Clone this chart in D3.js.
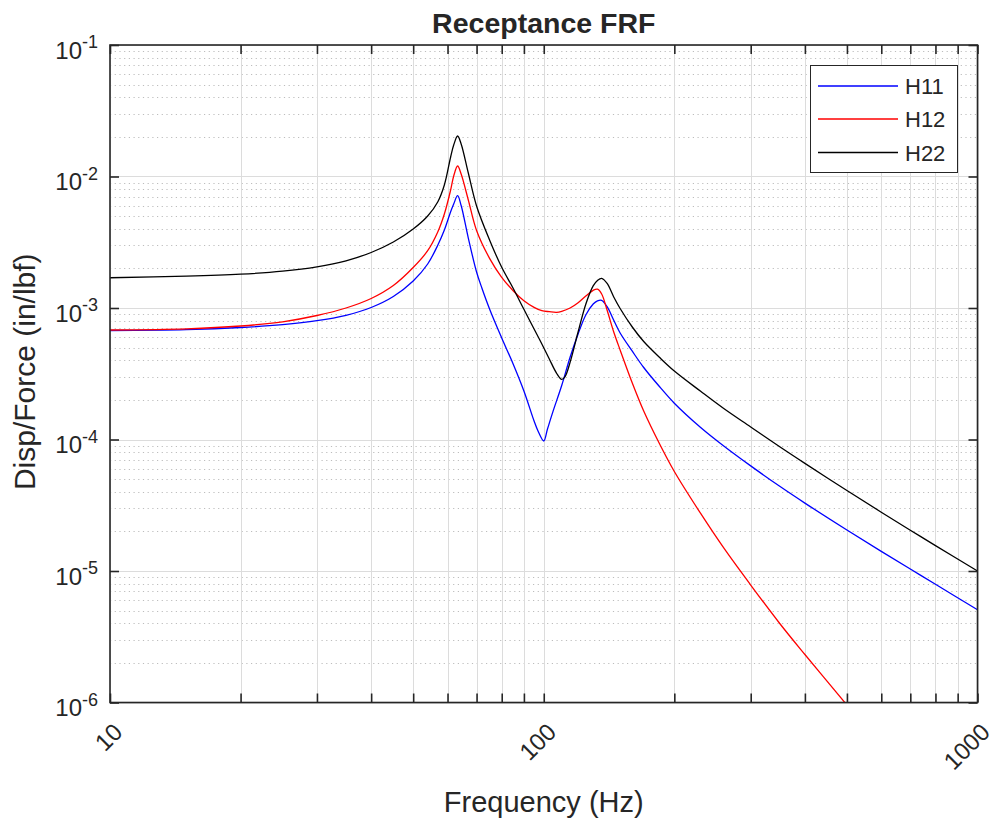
<!DOCTYPE html>
<html>
<head>
<meta charset="utf-8">
<script src="https://cdn.jsdelivr.net/npm/d3@7"></script>
<style>
  html, body { margin: 0; padding: 0; background: #ffffff; }
  svg { display: block; }
  text { font-family: "Liberation Sans", Arial, Helvetica, sans-serif; fill: #262626; }
</style>
</head>
<body>
<svg id="chart" width="997" height="823"></svg>
<script>
// ---------------- data ----------------
const freqH11 = [10,15,20,25,30,35,40,45,50,54,57,59,61,62,63.3,64.5,67,70,72,75,80,85,90,95,97,100,102,105,110,115,120,125,130,133,136,140,145,150,160,170,185,200,230,260,300,350,400,500,600,700,800,1000];
const H11 = [6.744e-4,6.85e-4,7.107e-4,7.477e-4,8.005e-4,8.80e-4,1.009e-3,1.223e-3,1.604e-3,
  2.161e-3,3.013e-3,3.918e-3,5.399e-3,6.178e-3,7.145e-3,6.018e-3,3.405e-3,
  1.878e-3,1.419e-3,9.83e-4,5.913e-4,3.751e-4,2.338e-4,1.382e-4,1.160e-4,9.74e-5,1.202e-4,1.630e-4,
  2.574e-4,4.218e-4,6.344e-4,8.848e-4,1.072e-3,1.134e-3,1.144e-3,1.023e-3,8.06e-4,6.456e-4,
  4.692e-4,3.527e-4,2.517e-4,1.888e-4,1.234e-4,8.925e-5,6.30e-5,4.406e-5,3.284e-5,2.050e-5,
  1.411e-5,1.036e-5,7.93e-6,5.07e-6];

const freqH12 = [10,15,20,25,30,35,40,45,50,54,57,59,61,62,63.3,64.5,67,70,75,80,85,90,95,99,103,107,110,115,120,125,130,133,136,140,145,150,160,170,185,200,230,260,300,350,400,500];
const H12 = [6.803e-4,6.947e-4,7.296e-4,7.853e-4,8.770e-4,1.0e-3,1.181e-3,1.483e-3,2.032e-3,
  2.727e-3,3.803e-3,5.185e-3,7.894e-3,1.009e-2,1.202e-2,1.045e-2,6.63e-3,
  3.884e-3,2.387e-3,1.712e-3,1.354e-3,1.136e-3,1.012e-3,9.539e-4,9.373e-4,9.274e-4,
  9.438e-4,1.0e-3,1.098e-3,1.234e-3,1.363e-3,1.390e-3,1.278e-3,9.605e-4,6.570e-4,4.793e-4,
  2.690e-4,1.647e-4,9.24e-5,5.71e-5,2.738e-5,1.496e-5,7.82e-6,3.989e-6,2.317e-6,9.57e-7];

const freqH22 = [10,15,20,25,30,35,40,45,50,54,57,59,61,62,63.3,64.5,67,70,75,80,85,90,95,99,103,107,110,112,115,120,125,130,133,136,140,145,150,160,170,185,200,230,260,300,350,400,500,600,700,800,1000];
const H22 = [1.699e-3,1.745e-3,1.807e-3,1.905e-3,2.057e-3,2.285e-3,2.643e-3,3.175e-3,3.988e-3,
  5.007e-3,6.432e-3,8.618e-3,1.407e-2,1.736e-2,2.032e-2,1.767e-2,1.063e-2,
  5.965e-3,3.290e-3,2.039e-3,1.412e-3,9.774e-4,6.924e-4,5.323e-4,4.095e-4,3.203e-4,
  2.869e-4,3.013e-4,3.858e-4,6.570e-4,1.069e-3,1.473e-3,1.619e-3,1.682e-3,1.536e-3,1.213e-3,9.913e-4,
  7.17e-4,5.56e-4,4.203e-4,3.317e-4,2.326e-4,1.720e-4,1.245e-4,8.80e-5,6.58e-5,4.095e-5,
  2.800e-5,2.042e-5,1.560e-5,1.0e-5];

const seriesNames = ["H11", "H12", "H22"];
const seriesColors = ["#0000ff", "#ff0000", "#000000"];
const xTickValues = [10,20,30,40,50,60,70,80,90,100,200,300,400,500,600,700,800,900,1000];
const xTickLabels = ["10", "100", "1000"];
const yDecades = [1e-6,1e-5,1e-4,1e-3,1e-2,1e-1];
const yExponents = ["-6","-5","-4","-3","-2","-1"];
const titleText = "Receptance FRF";
const xLabelText = "Frequency (Hz)";
const yLabelText = "Disp/Force (in/lbf)";

// ---------------- layout ----------------
const L = 110, R = 977.5, T = 45, B = 702.5;
const svg = d3.select("#chart");
const x = d3.scaleLog().domain([10, 1000]).range([L, R]);
const y = d3.scaleLog().domain([1e-6, 1e-1]).range([B, T]);

svg.append("rect").attr("x", 0).attr("y", 0).attr("width", 997).attr("height", 823).attr("fill", "#fff");

// minor horizontal dotted grid
const yMinor = [];
for (let e = -6; e < -1; e++) for (let k = 2; k <= 9; k++) yMinor.push(k * Math.pow(10, e));
svg.append("g").selectAll("line").data(yMinor).join("line")
  .attr("x1", L).attr("x2", R)
  .attr("y1", d => Math.round(y(d)) + 0.5).attr("y2", d => Math.round(y(d)) + 0.5)
  .attr("stroke", "#bdbdbd").attr("stroke-width", 1).attr("stroke-dasharray", "1.2,3.5");

// vertical grid
svg.append("g").selectAll("line").data(xTickValues).join("line")
  .attr("x1", d => Math.round(x(d)) + 0.5).attr("x2", d => Math.round(x(d)) + 0.5)
  .attr("y1", T).attr("y2", B)
  .attr("stroke", "#dcdcdc").attr("stroke-width", 1);

// major horizontal grid
svg.append("g").selectAll("line").data(yDecades).join("line")
  .attr("x1", L).attr("x2", R)
  .attr("y1", d => Math.round(y(d)) + 0.5).attr("y2", d => Math.round(y(d)) + 0.5)
  .attr("stroke", "#dcdcdc").attr("stroke-width", 1);

// clip
svg.append("defs").append("clipPath").attr("id", "plotclip")
  .append("rect").attr("x", L).attr("y", T).attr("width", R - L).attr("height", B - T);

// curves
const line = d3.line().x(d => x(d[0])).y(d => y(d[1])).curve(d3.curveCatmullRom.alpha(0.5));
const allSeries = [
  freqH11.map((f, i) => [f, H11[i]]),
  freqH12.map((f, i) => [f, H12[i]]),
  freqH22.map((f, i) => [f, H22[i]])
];
const curves = svg.append("g").attr("clip-path", "url(#plotclip)");
allSeries.forEach((s, i) => {
  curves.append("path").datum(s).attr("d", line)
    .attr("fill", "none").attr("stroke", seriesColors[i]).attr("stroke-width", 1.3)
    .attr("stroke-linejoin", "round");
});

// axes box
const axisColor = "#262626";
svg.append("rect").attr("x", L).attr("y", T).attr("width", R - L).attr("height", B - T)
  .attr("fill", "none").attr("stroke", axisColor).attr("stroke-width", 1.6);

// ticks (inward, all four sides) via d3 axes
const tickLen = 9;
const xb = svg.append("g").attr("transform", `translate(0,${B})`)
  .call(d3.axisBottom(x).tickValues(xTickValues).tickSize(-tickLen).tickFormat(""));
const xt = svg.append("g").attr("transform", `translate(0,${T})`)
  .call(d3.axisTop(x).tickValues(xTickValues).tickSize(-tickLen).tickFormat(""));
const yl = svg.append("g").attr("transform", `translate(${L},0)`)
  .call(d3.axisLeft(y).tickValues(yDecades).tickSize(-tickLen).tickFormat(""));
const yr = svg.append("g").attr("transform", `translate(${R},0)`)
  .call(d3.axisRight(y).tickValues(yDecades).tickSize(-tickLen).tickFormat(""));
[xb, xt, yl, yr].forEach(g => {
  g.select(".domain").remove();
  g.selectAll(".tick line").attr("stroke", axisColor).attr("stroke-width", 1.6);
});

// x tick labels (rotated)
const xLabVals = [10, 100, 1000];
svg.append("g").selectAll("text").data(xLabVals).join("text")
  .attr("transform", (d, i) => `translate(${x(d) + 14},${B + 31}) rotate(-45)`)
  .attr("text-anchor", "end")
  .attr("font-size", 24)
  .text((d, i) => xTickLabels[i]);

// y tick labels with superscripts
const ylab = svg.append("g").selectAll("text").data(yDecades).join("text")
  .attr("x", 98).attr("y", d => y(d) + 13.5)
  .attr("text-anchor", "end").attr("font-size", 24);
ylab.append("tspan").text("10");
ylab.append("tspan").attr("dy", -10.5).attr("font-size", 18).text((d, i) => yExponents[i]);

// title and axis labels
svg.append("text").attr("x", (L + R) / 2).attr("y", 33)
  .attr("text-anchor", "middle").attr("font-size", 28.5).attr("font-weight", "bold")
  .attr("fill", "#000").text(titleText);
svg.append("text").attr("x", (L + R) / 2).attr("y", 812)
  .attr("text-anchor", "middle").attr("font-size", 29).text(xLabelText);
svg.append("text").attr("transform", `translate(35,${(T + B) / 2 - 2}) rotate(-90)`)
  .attr("text-anchor", "middle").attr("font-size", 30).text(yLabelText);

// legend
const lg = svg.append("g");
lg.append("rect").attr("x", 810.5).attr("y", 65.5).attr("width", 147).attr("height", 107)
  .attr("fill", "#fff").attr("stroke", "#262626").attr("stroke-width", 1);
const legendY = [86, 119, 152.5];
seriesNames.forEach((n, i) => {
  lg.append("line").attr("x1", 818).attr("x2", 898).attr("y1", legendY[i]).attr("y2", legendY[i])
    .attr("stroke", seriesColors[i]).attr("stroke-width", 1.3);
  lg.append("text").attr("x", 905).attr("y", legendY[i] + 8).attr("font-size", 22)
    .attr("fill", "#000").text(n);
});
</script>
</body>
</html>
